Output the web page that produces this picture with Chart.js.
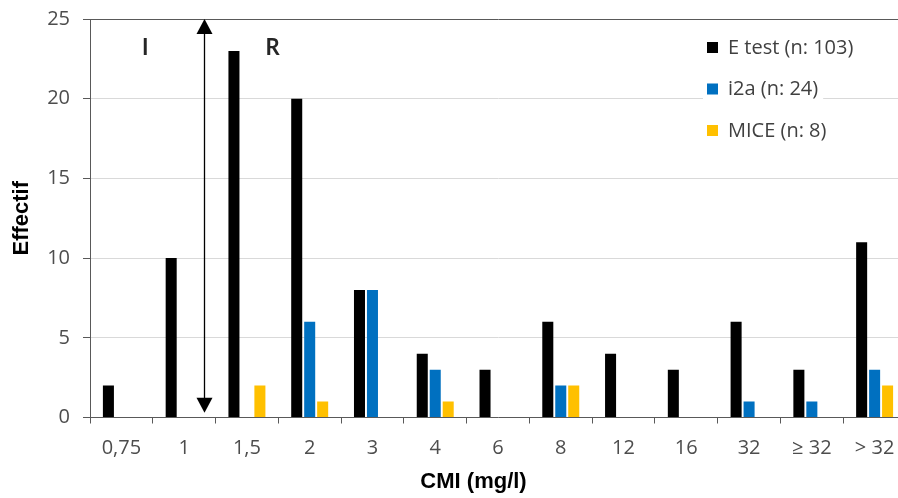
<!DOCTYPE html>
<html>
<head>
<meta charset="utf-8">
<script src="https://cdn.jsdelivr.net/npm/chart.js@4/dist/chart.umd.min.js"></script>
<style>
    html, body { margin: 0; padding: 0; background: #fff; overflow: hidden; }
    #wrap { width: 912px; height: 498px; }
</style>
</head>
<body>
<div id="wrap"><canvas id="cmiChart" width="912" height="498"></canvas></div>
<script>
var cmiLabels = ['0,75', '1', '1,5', '2', '3', '4', '6', '8', '12', '16', '32', '≥ 32', '> 32'];
var etestCounts = [2, 10, 23, 20, 8, 4, 3, 6, 4, 3, 6, 3, 11];
var i2aCounts = [0, 0, 0, 6, 8, 3, 0, 2, 0, 0, 1, 1, 3];
var miceCounts = [0, 0, 2, 1, 0, 1, 0, 2, 0, 0, 0, 0, 2];
var seriesNames = ['E test (n: 103)', 'i2a (n: 24)', 'MICE (n: 8)'];
var seriesColors = ['#000000', '#0070c0', '#ffc000'];
var yTicks = [0, 5, 10, 15, 20, 25];

// breakpoint arrow between "1" and "1,5", with the I / R zones on each side
var breakpointAt = 1.315;
var arrowFrom = 0.3;
var arrowTo = 25;
var zoneLabels = [
    { text: 'I', at: 0.38, y: 23.2 },
    { text: 'R', at: 2.41, y: 23.2 }
];

var textGrey = '#595959';
Chart.defaults.font.family = "'Open Sans', sans-serif";

var extras = {
    id: 'extras',
    afterDatasetsDraw(chart) {
        var ctx = chart.ctx;
        var x = chart.scales.x;
        var y = chart.scales.y;
        var ax = Math.round(x.getPixelForValue(breakpointAt)) + 0.5;
        var top = y.getPixelForValue(arrowTo);
        var bottom = y.getPixelForValue(arrowFrom);

        ctx.save();
        ctx.strokeStyle = '#000';
        ctx.fillStyle = '#000';
        ctx.lineWidth = 1.3;
        ctx.beginPath();
        ctx.moveTo(ax, top + 10);
        ctx.lineTo(ax, bottom - 10);
        ctx.stroke();

        ctx.beginPath();
        ctx.moveTo(ax, top);
        ctx.lineTo(ax - 8, top + 15);
        ctx.lineTo(ax + 8, top + 15);
        ctx.closePath();
        ctx.fill();

        ctx.beginPath();
        ctx.moveTo(ax, bottom);
        ctx.lineTo(ax - 8, bottom - 15);
        ctx.lineTo(ax + 8, bottom - 15);
        ctx.closePath();
        ctx.fill();

        ctx.font = "bold 22px Lato, sans-serif";
        ctx.textAlign = 'center';
        ctx.textBaseline = 'middle';
        ctx.fillStyle = '#262626';
        zoneLabels.forEach(function (z) {
            ctx.fillText(z.text, x.getPixelForValue(z.at), y.getPixelForValue(z.y));
        });
        ctx.restore();
    },
    afterDraw(chart) {
        var ctx = chart.ctx;
        var area = chart.chartArea;
        ctx.save();

        // legend, top right inside the plot
        ctx.font = "20px 'Open Sans', sans-serif";
        ctx.textBaseline = 'middle';
        ctx.textAlign = 'left';
        var lx = area.right - 199;
        chart.data.datasets.forEach(function (ds, i) {
            var ly = area.top + 28 + i * 41.5;
            var w = ctx.measureText(ds.label).width;
            ctx.fillStyle = '#fff';
            ctx.fillRect(lx - 4, ly - 12, w + 30, 24);
            ctx.fillStyle = ds.backgroundColor;
            ctx.fillRect(lx, ly - 5, 11, 11);
            ctx.fillStyle = '#404040';
            ctx.fillText(ds.label, lx + 21, ly + 1);
        });

        // x axis title
        ctx.font = "bold 22px 'Liberation Sans', Arial, sans-serif";
        ctx.fillStyle = '#000';
        ctx.textAlign = 'center';
        ctx.fillText('CMI (mg/l)', area.left + (area.right - area.left) * 0.47, 482);
        ctx.restore();
    }
};

var ctx = document.getElementById('cmiChart').getContext('2d');

var cmiChart = new Chart(ctx, {
    type: 'bar',
    data: {
        labels: cmiLabels,
        datasets: [
            { label: seriesNames[0], data: etestCounts, backgroundColor: seriesColors[0] },
            { label: seriesNames[1], data: i2aCounts, backgroundColor: seriesColors[1] },
            { label: seriesNames[2], data: miceCounts, backgroundColor: seriesColors[2] }
        ]
    },
    options: {
        responsive: false,
        animation: false,
        layout: { padding: { top: 19, right: 6, left: 0, bottom: 0 } },
        datasets: {
            bar: { categoryPercentage: 0.62, barPercentage: 0.85, borderWidth: 0 }
        },
        plugins: {
            legend: { display: false },
            tooltip: { enabled: false }
        },
        scales: {
            x: {
                afterFit: function (scale) { scale.height = 80.5; },
                grid: {
                    offset: true,
                    drawOnChartArea: false,
                    tickLength: 6,
                    tickColor: textGrey
                },
                border: { color: textGrey, width: 1 },
                ticks: {
                    color: '#4d4d4d',
                    font: { size: 20 },
                    padding: 13,
                    maxRotation: 0,
                    autoSkip: false
                }
            },
            y: {
                min: 0,
                max: 25,
                afterFit: function (scale) {
                    scale.width = 90;
                    scale.paddingTop = 0;
                    scale.paddingBottom = 0;
                },
                afterBuildTicks: function (axis) {
                    axis.ticks = yTicks.map(function (v) { return { value: v }; });
                },
                grid: {
                    color: function (c) {
                        return c.tick && c.tick.value === 25 ? textGrey : '#d9d9d9';
                    },
                    tickColor: textGrey,
                    tickLength: 7
                },
                border: { color: textGrey, width: 1 },
                ticks: {
                    color: '#4d4d4d',
                    font: { size: 20 },
                    padding: 13
                },
                title: {
                    display: true,
                    text: 'Effectif',
                    color: '#000',
                    font: { family: "'Liberation Sans', Arial, sans-serif", size: 22, weight: 'bold' },
                    padding: { top: 9, bottom: 0 }
                }
            }
        }
    },
    plugins: [extras]
});
</script>
</body>
</html>
